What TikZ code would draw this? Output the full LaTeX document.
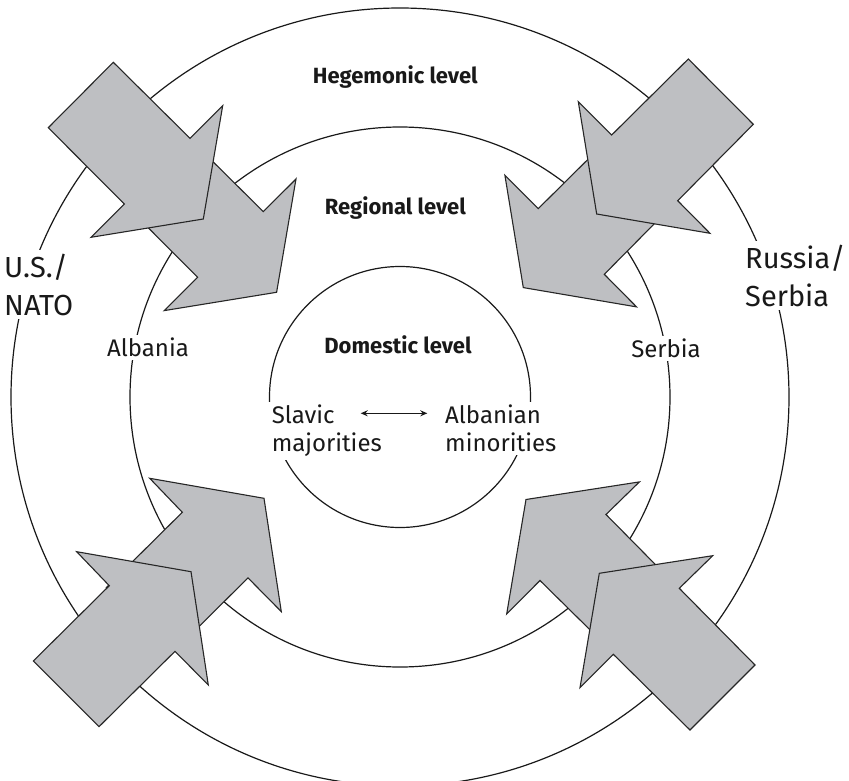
\documentclass[tikz,border=0pt]{standalone}
\usepackage{fontspec}
\setmainfont{Fira Sans}
\usetikzlibrary{arrows.meta}
\definecolor{arrowgray}{RGB}{190,191,194}
\newcommand\ArrUL{(113.3,62.3) -- (190,138.3) -- (222.7,105.7) -- (203.3,219) -- (91,237.3) -- (124.3,204) -- (48.3,127.7) -- cycle}
\newcommand\ArrUR{(688.3,59) -- (611.7,135) -- (578.3,101.7) -- (596.7,214) -- (710,233.3) -- (677.7,200.7) -- (753.3,124.3) -- cycle}
\newcommand\ArrLL{(33.3,661) -- (109.3,585.7) -- (76.7,551.7) -- (191,571.7) -- (208.3,685) -- (175,651.3) -- (99,726.7) -- cycle}
\newcommand\ArrLR{(755,665) -- (679.3,588.3) -- (712.7,555.7) -- (599.3,573.3) -- (580,687.7) -- (613.3,654.3) -- (690,730) -- cycle}
\begin{document}
\begin{tikzpicture}[x=1pt,y=-1pt,
  levelcircle/.style={draw=black!90, line width=1.2pt},
  bigarrow/.style={draw=black!85, line width=1.1pt, fill=arrowgray, line join=miter},
  leveltext/.style={font=\bfseries\fontsize{22}{26}\selectfont, text=black!90, inner sep=0pt},
  labeltext/.style={font=\fontsize{24}{28.3}\selectfont, text=black!90, fill=white, inner sep=3pt, align=left},
  actortext/.style={font=\fontsize{29}{38}\selectfont, text=black!90, fill=white, inner sep=4pt, align=left}]
\useasboundingbox (0,0) rectangle (849,781);
\coordinate (c) at (400,397);
% circles
\draw[levelcircle] (c) circle[radius=389pt];
\draw[levelcircle] (c) circle[radius=270pt];
\draw[levelcircle] (c) circle[radius=130.5pt];
% inner arrows (behind)
\begin{scope}[shift={(73.3,73.3)}]\filldraw[bigarrow] \ArrUL;\end{scope}
\begin{scope}[shift={(-73.4,73.6)}]\filldraw[bigarrow] \ArrUR;\end{scope}
\begin{scope}[shift={(73,-73.4)}]\filldraw[bigarrow] \ArrLL;\end{scope}
\begin{scope}[shift={(-73.3,-73.8)}]\filldraw[bigarrow] \ArrLR;\end{scope}
% outer arrows
\filldraw[bigarrow] \ArrUL;
\filldraw[bigarrow] \ArrUR;
\filldraw[bigarrow] \ArrLL;
\filldraw[bigarrow] \ArrLR;
% level labels
\node[leveltext, anchor=base] (heg) at (395.3,84) {Hegemonic level};
\node[leveltext, anchor=base] (reg) at (395.3,214.3) {Regional level};
\node[leveltext, anchor=base] (dom) at (398,353) {Domestic level};
% actors
\node[labeltext, anchor=base] (alb) at (148,356.7) {Albania};
\node[labeltext, anchor=base] (ser) at (666,357.3) {Serbia};
\node[actortext, anchor=base west] (usn) at (0,315) {U.S./\\NATO};
\node[actortext, anchor=base west] (rus) at (741,306) {Russia/\\Serbia};
\node[labeltext, anchor=base west] (slav) at (268.7,451.7) {Slavic\\majorities};
\node[labeltext, anchor=base west] (albm) at (442,451.7) {Albanian\\minorities};
\coordinate (dl) at (360.7,413.3);
\coordinate (dr) at (427.3,413.3);
\draw[line width=1.2pt, draw=black!90, {Stealth[length=7pt,width=6pt]}-{Stealth[length=7pt,width=6pt]}] (dl) -- (dr);
\end{tikzpicture}
\end{document}
